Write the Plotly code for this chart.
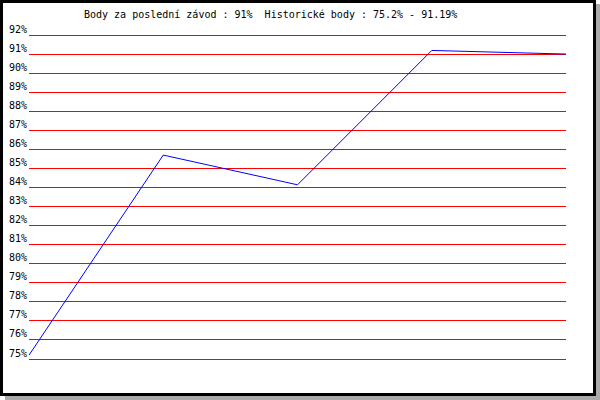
import plotly.graph_objects as go

# Data
races = [1, 2, 3, 4, 5]
points_pct = [75.2, 85.7, 84.14, 91.19, 91.0]
y_ticks = list(range(75, 93))
y_tick_labels = [f"{v}%" for v in y_ticks]
title_text = "Body za poslední závod : 91%  Historické body : 75.2% - 91.19%"

W, H = 600, 400
L, R = 29, 566
T0, B0 = 35, 359          # pixel rows of 92% and 75% gridlines
PAD = 2                   # keep edge gridlines inside the plot area
T, B = T0 - PAD, B0 + PAD
unit = (B0 - T0) / (92 - 75)
y_range = [75 - PAD / unit, 92 + PAD / unit]

def px_x(px):
    return (px - L) / (R - L)

def px_y(py):
    return (B - py) / (B - T)

fig = go.Figure()
fig.add_trace(go.Scatter(
    x=races, y=points_pct, mode="lines",
    line=dict(color="#0000ff", width=1),
    hoverinfo="skip", showlegend=False, cliponaxis=False,
))

mono = "DejaVu Sans Mono"

fig.update_layout(
    width=W, height=H,
    margin=dict(l=L, r=W - R, t=T, b=H - B, pad=0, autoexpand=False),
    paper_bgcolor="white",
    plot_bgcolor="rgba(0,0,0,0)",
    showlegend=False,
    xaxis=dict(range=[1, 5], showgrid=False, zeroline=False, showline=False,
               showticklabels=False, ticks="", fixedrange=True, automargin=False),
    yaxis=dict(range=y_range, tickmode="array", tickvals=y_ticks,
               ticktext=y_tick_labels, showgrid=True, gridcolor="#ff0000",
               gridwidth=1, zeroline=False, showline=False, ticks="",
               tickfont=dict(family=mono, size=10, color="black"),
               ticklabelshift=-6, ticklabelstandoff=1, fixedrange=True,
               automargin=False),
    shapes=[
        dict(type="rect", xref="paper", yref="paper", layer="below",
             x0=px_x(5), x1=px_x(600), y0=px_y(400), y1=px_y(4),
             fillcolor="#aaaaaa", line=dict(width=0)),
        dict(type="rect", xref="paper", yref="paper", layer="below",
             x0=px_x(1.5), x1=px_x(594.5), y0=px_y(394.5), y1=px_y(1.5),
             fillcolor="white", line=dict(color="black", width=3)),
    ],
    annotations=[
        dict(text=title_text, xref="paper", yref="paper",
             x=px_x(82), y=px_y(14), xanchor="left", yanchor="middle",
             showarrow=False, font=dict(family=mono, size=10, color="black")),
    ],
)

fig.write_html(
    "out.html",
    config={"displayModeBar": False},
    post_script="document.body.style.margin='0';document.body.style.overflow='hidden';",
)
